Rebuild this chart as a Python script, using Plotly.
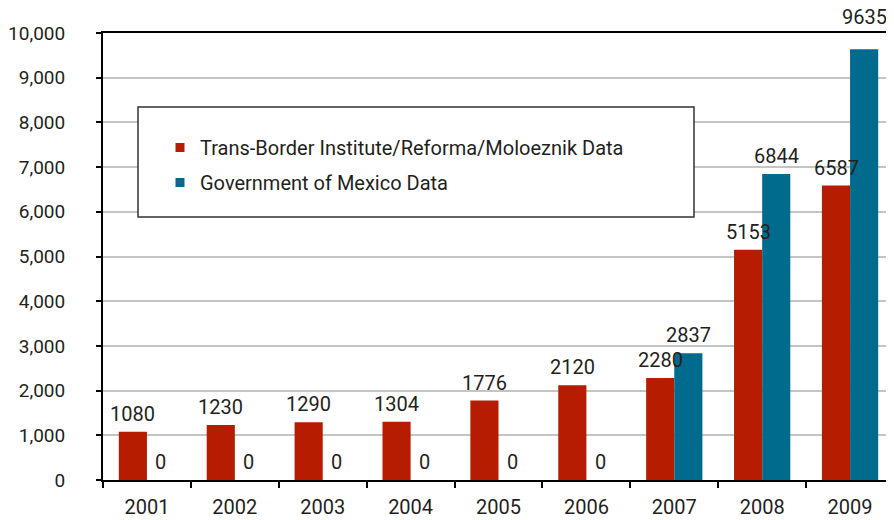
import plotly.graph_objects as go

YEARS = ["2001", "2002", "2003", "2004", "2005", "2006", "2007", "2008", "2009"]
TBI_DATA = [1080, 1230, 1290, 1304, 1776, 2120, 2280, 5153, 6587]
GOV_DATA = [0, 0, 0, 0, 0, 0, 2837, 6844, 9635]

SERIES_NAMES = ["Trans-Border Institute/Reforma/Moloeznik Data", "Government of Mexico Data"]

RED = "#b51c00"
BLUE = "#006b8c"
FG = "#231f20"
FONT = "Roboto, sans-serif"
Y_MAX = 10000

# page body has an 8px margin -> figure is drawn 8px right/down
PAGE_OFF = 8
W, H = 894 - PAGE_OFF, 520 - PAGE_OFF
ML, MT, MB = 103 - PAGE_OFF, 33 - PAGE_OFF, 40
PLOT_W, PLOT_H = W - ML, H - MT - MB


def px_x(x):
    return (x - PAGE_OFF - ML) / PLOT_W


def px_y(y):
    return (H - MB - (y - PAGE_OFF)) / PLOT_H


fig = go.Figure()
series = [(SERIES_NAMES[0], TBI_DATA, RED, -14), (SERIES_NAMES[1], GOV_DATA, BLUE, 14)]
for name, vals, col, dx in series:
    fig.add_trace(
        go.Bar(
            x=YEARS,
            y=vals,
            name=name,
            marker=dict(color=col, line=dict(width=0)),
            showlegend=False,
        )
    )
    # value labels just above each bar (x as category index: "2001" would be read as a number)
    for i, v in enumerate(vals):
        # labels that would hit the top frame line go above it
        shift = 18 if v > 0.92 * Y_MAX else 4
        fig.add_annotation(
            x=i,
            y=v,
            xshift=dx,
            yshift=shift,
            yanchor="bottom",
            xanchor="center",
            text=str(v),
            showarrow=False,
            font=dict(size=20, color=FG, family=FONT),
        )

# legend-only entries with small square markers
for name, _, col, _ in series:
    fig.add_trace(
        go.Scatter(
            x=[YEARS[0]],
            y=[None],
            mode="markers",
            name=name,
            legendgroup=name,
            marker=dict(symbol="square", size=9, color=col),
        )
    )

fig.update_xaxes(
    type="category",
    categoryorder="array",
    categoryarray=YEARS,
    range=[-0.5, len(YEARS) - 0.5],
    showline=True,
    linecolor="black",
    linewidth=2,
    mirror=True,
    ticks="outside",
    ticklen=6,
    tickwidth=2,
    tickcolor="black",
    tickson="boundaries",
    ticklabelstandoff=8,
    tickfont=dict(size=20, color=FG, family=FONT),
    showgrid=False,
    automargin=False,
)
fig.update_yaxes(
    range=[0, Y_MAX],
    dtick=1000,
    tickformat=",",
    showline=True,
    linecolor="black",
    linewidth=2,
    ticks="outside",
    ticklen=5,
    tickwidth=2,
    tickcolor="black",
    ticklabelstandoff=27,
    gridcolor="#c4c4c4",
    gridwidth=1.5,
    zeroline=False,
    tickfont=dict(size=19, color=FG, family=FONT),
    automargin=False,
)

# legend frame (wider than the legend content, as in the original)
fig.add_shape(
    type="rect",
    xref="paper",
    yref="paper",
    x0=px_x(138),
    x1=px_x(694),
    y0=px_y(217),
    y1=px_y(107),
    line=dict(color="#333333", width=1.5),
    fillcolor="white",
    layer="above",
)

fig.update_layout(
    width=W,
    height=H,
    margin=dict(l=ML, r=0, t=MT, b=MB, autoexpand=False),
    paper_bgcolor="white",
    plot_bgcolor="white",
    barmode="group",
    bargap=0.36,
    bargroupgap=0,
    font=dict(family=FONT, color=FG),
    legend=dict(
        x=px_x(160),
        y=px_y(128),
        xanchor="left",
        yanchor="top",
        bgcolor="rgba(0,0,0,0)",
        font=dict(size=20, color=FG, family=FONT),
        itemwidth=30,
        tracegroupgap=6,
    ),
    showlegend=True,
)

fig.write_html("out.html")
